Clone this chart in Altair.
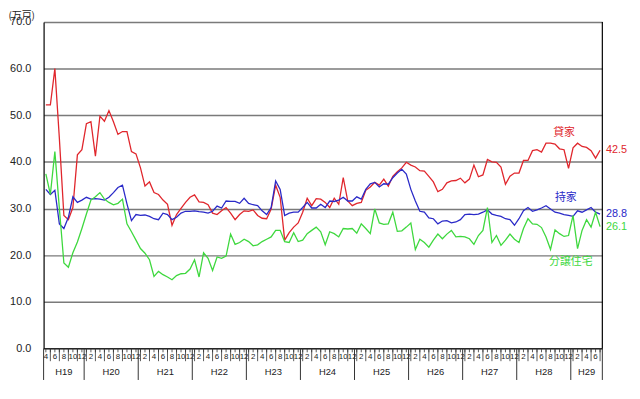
import altair as alt
import pandas as pd

# ---------------- data (万戸, monthly from H19年4月) ----------------
kashiya = [52.2, 52.2, 60.0, 45.0, 28.5, 27.6, 30.2, 41.5, 42.6, 48.2, 48.6, 41.2,
           49.8, 48.7, 51.0, 48.6, 45.9, 46.5, 46.5, 42.2, 41.7, 38.7, 34.8, 35.7,
           33.4, 33.0, 31.8, 30.9, 26.4, 28.7, 30.0, 31.3, 32.4, 32.9, 31.4, 31.3,
           30.8, 29.0, 28.7, 29.5, 30.2, 29.0, 27.6, 28.7, 29.5, 29.4, 29.7, 28.5,
           27.9, 27.8, 29.9, 35.0, 32.4, 23.2, 24.8, 26.0, 26.9, 29.2, 32.2, 30.6,
           32.1, 32.0, 31.3, 30.2, 32.2, 30.9, 36.6, 31.6, 30.6, 31.1, 31.3, 33.9,
           34.6, 35.6, 35.0, 36.3, 34.8, 36.9, 37.9, 38.7, 39.9, 39.3, 38.9, 38.1,
           38.0, 36.9, 35.7, 33.6, 34.1, 35.5, 35.9, 36.0, 36.5, 35.5, 36.3, 39.3,
           36.8, 37.2, 40.5, 40.0, 39.9, 38.9, 35.2, 36.9, 37.6, 37.6, 40.3, 40.3,
           42.4, 42.6, 42.1, 44.0, 44.0, 43.8, 42.8, 42.6, 38.6, 43.0, 44.0, 43.3,
           43.1, 42.4, 40.8, 42.5]
mochiie = [34.1, 33.0, 33.9, 26.7, 25.7, 28.1, 32.5, 31.3, 31.8, 32.4, 32.0, 32.1,
           32.0, 31.8, 32.4, 33.4, 34.5, 35.0, 31.0, 27.4, 28.7, 28.5, 28.6, 28.3,
           27.8, 27.6, 29.0, 28.7, 27.6, 28.1, 29.0, 29.4, 29.4, 29.5, 29.3, 29.2,
           29.0, 29.4, 30.5, 30.1, 31.6, 31.5, 31.5, 31.1, 32.2, 31.1, 30.8, 30.6,
           29.5, 28.7, 30.2, 35.9, 34.1, 28.5, 29.0, 29.2, 29.2, 30.2, 31.3, 30.1,
           30.1, 30.9, 30.2, 31.6, 31.5, 31.8, 32.4, 31.6, 31.6, 32.5, 32.0, 34.1,
           35.3, 35.6, 34.6, 35.3, 35.2, 36.6, 37.6, 38.4, 37.4, 34.1, 31.6, 29.4,
           29.2, 28.0, 27.8, 26.7, 27.3, 27.4, 26.9, 27.1, 27.6, 28.7, 28.8, 28.7,
           28.8, 29.2, 29.7, 28.8, 28.5, 28.3, 27.8, 27.6, 26.4, 27.8, 29.5, 30.2,
           29.4, 29.7, 30.1, 30.6, 29.9, 29.2, 29.0, 28.7, 28.5, 28.3, 29.5, 29.2,
           29.7, 30.2, 29.2, 28.8]
bunjou = [37.4, 33.0, 42.2, 30.0, 18.3, 17.4, 20.5, 22.8, 25.7, 28.8, 31.8, 32.5,
          33.4, 32.0, 31.3, 30.8, 31.1, 32.0, 26.7, 25.0, 23.2, 21.4, 20.4, 19.0,
          15.4, 16.5, 15.8, 15.3, 14.7, 15.6, 16.0, 16.1, 17.0, 19.0, 15.3, 20.5,
          19.3, 16.7, 19.6, 19.3, 19.8, 24.5, 22.3, 22.7, 23.4, 22.9, 22.0, 22.2,
          22.9, 23.4, 23.9, 25.3, 25.3, 22.9, 22.7, 24.8, 22.9, 23.2, 24.6, 25.3,
          26.0, 25.0, 22.2, 25.0, 24.6, 23.9, 25.7, 25.6, 25.7, 24.7, 26.7, 25.7,
          24.6, 29.9, 26.9, 26.6, 26.7, 29.2, 25.1, 25.2, 26.0, 26.9, 21.2, 23.4,
          22.7, 21.7, 23.2, 24.5, 23.5, 24.5, 25.3, 23.9, 24.0, 23.9, 23.5, 22.3,
          24.2, 25.3, 30.2, 22.7, 24.2, 22.1, 23.2, 24.5, 23.4, 22.7, 25.7, 27.8,
          26.7, 26.6, 25.9, 23.9, 21.2, 25.4, 24.6, 24.0, 24.2, 28.5, 21.4, 25.3,
          27.6, 26.0, 29.2, 26.1]

series_names = ["貸家", "持家", "分譲住宅"]
year_labels = ["H19", "H20", "H21", "H22", "H23", "H24", "H25", "H26", "H27", "H28", "H29"]
y_ticks = [0, 10, 20, 30, 40, 50, 60, 70]
first_month = 4  # 4月 start

# ---------------- styles / layout ----------------
series_colors = ["#e0262c", "#2a2ac8", "#3ed83e"]
W, H = 565, 330
NUM_FONT = "Liberation Sans"
JP_FONT = "Noto Sans CJK JP"

n = len(kashiya)
idx = list(range(n))
month_of = [((first_month - 1 + i) % 12) + 1 for i in idx]

rows = []
for name, vals in zip(series_names, [kashiya, mochiie, bunjou]):
    for i, v in zip(idx, vals):
        rows.append({"i": i, "v": v, "s": name})
df = pd.DataFrame(rows)

xscale = alt.Scale(domain=[-0.5, n - 0.5], nice=False, zero=False)
yscale = alt.Scale(domain=[0, 70], nice=False)
cscale = alt.Scale(domain=series_names, range=series_colors)

lines = alt.Chart(df).mark_line(strokeWidth=1.3).encode(
    x=alt.X("i:Q", scale=xscale,
            axis=alt.Axis(labels=False, ticks=False, domainColor="black",
                          domainWidth=1, grid=False, title=None)),
    y=alt.Y("v:Q", scale=yscale,
            axis=alt.Axis(values=y_ticks, format=".1f", grid=True, gridColor="#7a7a7a",
                          gridWidth=1.5, tickSize=0, labelPadding=13, labelFontSize=11,
                          labelFont=NUM_FONT, labelColor="#222", domainColor="black",
                          domainWidth=1.2, title="(万戸)", titleAngle=0, titleX=-36,
                          titleY=-12, titleAlign="left", titleBaseline="top",
                          titleFontSize=10, titleFont=JP_FONT, titleFontWeight="normal",
                          titleColor="#222")),
    color=alt.Color("s:N", scale=cscale, legend=None),
)

# monthly ticks
mdf = pd.DataFrame({"i": idx, "m": month_of})
month_ticks = alt.Chart(mdf).mark_rule(color="#333", strokeWidth=0.8).encode(
    x=alt.X("i:Q", scale=xscale), y=alt.value(H), y2=alt.value(H + 4))

# even-month labels
even_df = mdf[mdf["m"] % 2 == 0]
month_text = alt.Chart(even_df).mark_text(fontSize=8, font=NUM_FONT, color="#222",
                                          baseline="middle").encode(
    x=alt.X("i:Q", scale=xscale), y=alt.value(H + 9), text="m:N")

# odd-month separators in the label row
odd_df = mdf[mdf["m"] % 2 == 1]
odd_rules = alt.Chart(odd_df).mark_rule(color="#333", strokeWidth=0.8).encode(
    x=alt.X("i:Q", scale=xscale), y=alt.value(H), y2=alt.value(H + 13))

# year boundaries
bounds = [-0.5] + [i - 0.5 for i in idx if month_of[i] == 1 and i > 0] + [n - 0.5]
yb_df = pd.DataFrame({"b": bounds})
year_rules = alt.Chart(yb_df).mark_rule(color="#333", strokeWidth=1).encode(
    x=alt.X("b:Q", scale=xscale), y=alt.value(H), y2=alt.value(H + 32))

centers = [(a + b) / 2 for a, b in zip(bounds[:-1], bounds[1:])]
yl_df = pd.DataFrame({"c": centers, "t": year_labels})
year_text = alt.Chart(yl_df).mark_text(fontSize=9.5, font=NUM_FONT, color="#222",
                                       baseline="middle").encode(
    x=alt.X("c:Q", scale=xscale), y=alt.value(H + 24), text="t:N")

# right frame line
right_border = alt.Chart(pd.DataFrame({"k": [0]})).mark_rule(color="black", strokeWidth=1.2).encode(
    x=alt.value(W), y=alt.value(0), y2=alt.value(H))

# end-of-series values
end_df = pd.DataFrame({"i": [n - 1] * 3, "v": [kashiya[-1], mochiie[-1], bunjou[-1]],
                       "s": series_names,
                       "t": ["%.1f" % kashiya[-1], "%.1f" % mochiie[-1], "%.1f" % bunjou[-1]]})
end_text = alt.Chart(end_df).mark_text(align="left", dx=6, fontSize=11, font=NUM_FONT,
                                       baseline="middle").encode(
    x=alt.X("i:Q", scale=xscale), y=alt.Y("v:Q", scale=yscale), text="t:N",
    color=alt.Color("s:N", scale=cscale, legend=None))

# series name labels (annotation anchors)
name_df = pd.DataFrame({"i": [115.0, 115.4, 116.5], "v": [46.1, 32.2, 18.5], "s": series_names})
name_text = alt.Chart(name_df).mark_text(fontSize=11, font=JP_FONT, baseline="middle").encode(
    x=alt.X("i:Q", scale=xscale), y=alt.Y("v:Q", scale=yscale), text="s:N",
    color=alt.Color("s:N", scale=cscale, legend=None))

chart = alt.layer(lines, month_ticks, month_text, odd_rules, year_rules, year_text,
                  right_border, end_text, name_text).properties(
    width=W, height=H,
    autosize=alt.AutoSizeParams(type="none"),
    padding={"left": 36, "top": 12, "right": 30, "bottom": 41},
    background="white",
).configure_view(stroke=None)

chart.save("out.html", embed_options={"renderer": "svg", "actions": False})
